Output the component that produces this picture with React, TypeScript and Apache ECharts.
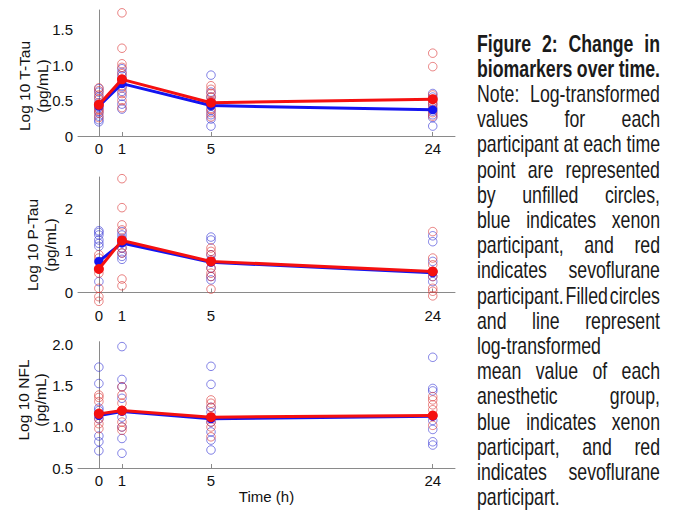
import React, { useEffect, useRef } from 'react';
import * as echarts from 'echarts';

// Time points (hours) and their positions on the (non-linear) plotted time axis
const timeLabels = ['0', '1', '5', '24'];
const timeAxisPos = [0, 1.66, 8.06, 24];

// Panel 1: Log 10 T-Tau
const tTauXenon = [
  [0.67, 0.62, 0.55, 0.47, 0.40, 0.34, 0.28, 0.23, 0.20],
  [0.95, 0.90, 0.85, 0.78, 0.70, 0.63, 0.56, 0.45, 0.38],
  [0.86, 0.62, 0.55, 0.48, 0.42, 0.36, 0.30, 0.24, 0.14],
  [0.60, 0.55, 0.45, 0.40, 0.35, 0.30, 0.26, 0.14],
];
const tTauSevo = [
  [0.68, 0.64, 0.58, 0.52, 0.45, 0.38, 0.32, 0.26, 0.36],
  [1.74, 1.24, 1.02, 0.97, 0.88, 0.80, 0.68, 0.60, 0.50, 0.40],
  [0.71, 0.66, 0.60, 0.55, 0.50, 0.44, 0.38, 0.33, 0.27],
  [1.17, 0.98, 0.58, 0.52, 0.48, 0.44, 0.38, 0.33, 0.28],
];
const tTauXenonMean = [0.42, 0.74, 0.43, 0.37];
const tTauSevoMean = [0.44, 0.80, 0.47, 0.52];

// Panel 2: Log 10 P-Tau
const pTauXenon = [
  [1.47, 1.43, 1.37, 1.25, 1.17, 1.10, 0.74, 0.26],
  [1.45, 1.37, 1.29, 1.18, 1.06, 0.94, 0.86, 0.79],
  [1.32, 1.25, 0.90, 0.78, 0.58, 0.38, 0.30],
  [1.35, 1.21, 0.74, 0.50, 0.38, 0.26],
];
const pTauSevo = [
  [0.90, 0.82, 0.56, 0.46, 0.10, -0.10, -0.21],
  [2.71, 2.02, 1.61, 1.49, 1.24, 1.06, 0.94, 0.32, 0.16],
  [1.06, 0.98, 0.90, 0.74, 0.58, 0.46, 0.38, 0.08],
  [1.45, 0.82, 0.66, 0.50, 0.38, 0.10, 0.03, -0.08],
];
const pTauXenonMean = [0.74, 1.18, 0.72, 0.47];
const pTauSevoMean = [0.56, 1.24, 0.74, 0.50];

// Panel 3: Log 10 NFL
const nflXenon = [
  [1.73, 1.53, 1.23, 1.20, 1.10, 0.89, 0.82, 0.71],
  [1.98, 1.58, 1.49, 1.35, 1.12, 1.00, 0.86, 0.68],
  [1.74, 1.52, 1.24, 1.18, 1.06, 0.94, 0.84, 0.72],
  [1.85, 1.47, 1.44, 1.08, 0.97, 0.82, 0.78],
];
const nflSevo = [
  [1.39, 1.36, 1.31, 1.17, 1.10, 1.04, 0.98],
  [1.49, 1.39, 1.29, 1.20, 1.06, 1.00, 0.96],
  [1.33, 1.29, 1.24, 1.12, 1.06, 1.00, 0.88],
  [1.37, 1.33, 1.27, 1.21, 1.14, 1.02],
];
const nflXenonMean = [1.14, 1.19, 1.10, 1.13];
const nflSevoMean = [1.16, 1.20, 1.12, 1.14];

const panelTitles = ['Log 10 T-Tau\n(pg/mL)', 'Log 10 P-Tau\n(pg/mL)', 'Log 10 NFL\n(pg/mL)'];

const captionLines = [
  'Figure 2: Change in',
  'biomarkers over time.',
  'Note: Log-transformed',
  'values for each',
  'participant at each time',
  'point are represented',
  'by unfilled circles,',
  'blue indicates xenon',
  'participant, and red',
  'indicates sevoflurane',
  'participant. Filled circles',
  'and line represent',
  'log-transformed',
  'mean value of each',
  'anesthetic group,',
  'blue indicates xenon',
  'participart, and red',
  'indicates sevoflurane',
  'participart.',
];
const captionBoldLines = 2;

const FONT = '"Liberation Sans", Arial, Helvetica, sans-serif';
const BLUE_RING = 'rgba(60,60,215,0.8)';
const RED_RING = 'rgba(220,55,55,0.78)';
const BLUE_LINE = '#1414f0';
const RED_LINE = '#f51010';
const AXIS_GRAY = '#8a8a8a';

function toPoints(groups: number[][]) {
  const pts: number[][] = [];
  groups.forEach((vals, i) => vals.forEach((v) => pts.push([timeAxisPos[i], v])));
  return pts;
}
function meanPoints(means: number[]) {
  return means.map((v, i) => [timeAxisPos[i], v]);
}

export default function App() {
  const ref = useRef<HTMLDivElement>(null);

  useEffect(() => {
    if (!ref.current) return;
    const chart = echarts.init(ref.current, undefined, { renderer: 'svg' });

    const grids = [
      { left: 78, top: 10, width: 377, height: 126 },
      { left: 78, top: 177, width: 377, height: 126 },
      { left: 78, top: 341.7, width: 377, height: 126.3 },
    ];

    const xAxes = grids.map((_, k) => ({
      type: 'value',
      gridIndex: k,
      min: -1.5,
      max: 25.6,
      name: k === 2 ? 'Time (h)' : '',
      nameLocation: 'middle',
      nameGap: 20,
      nameTextStyle: { fontFamily: FONT, fontSize: 15, color: '#111' },
      axisLine: { show: true, lineStyle: { color: AXIS_GRAY, width: 1 } },
      axisTick: {
        show: true,
        inside: true,
        customValues: timeAxisPos,
        length: 4,
        lineStyle: { color: AXIS_GRAY },
      },
      axisLabel: {
        customValues: timeAxisPos,
        fontFamily: FONT,
        fontSize: 15,
        color: '#111',
        margin: 5,
        formatter: (v: number) => {
          const idx = timeAxisPos.findIndex((p) => Math.abs(p - v) < 1e-6);
          return idx >= 0 ? timeLabels[idx] : '';
        },
      },
      splitLine: { show: false },
    }));

    const yCfg = [
      { min: 0, max: 1.78, interval: 0.5, fmt: (v: number) => (Math.abs(v) < 1e-9 ? '0' : v.toFixed(1)) },
      {
        min: -0.25,
        max: 2.75,
        interval: 0.25,
        fmt: (v: number) => (Math.abs(v - Math.round(v)) < 1e-6 ? String(Math.round(v)) : ''),
      },
      { min: 0.5, max: 2.04, interval: 0.5, fmt: (v: number) => v.toFixed(1) },
    ];

    const yAxes = yCfg.map((c, k) => ({
      type: 'value',
      gridIndex: k,
      min: c.min,
      max: c.max,
      interval: c.interval,
      axisLine: { show: true, lineStyle: { color: AXIS_GRAY, width: 1 } },
      axisTick: { show: false },
      axisLabel: {
        fontFamily: FONT,
        fontSize: 15,
        color: '#111',
        margin: 5,
        showMaxLabel: false,
        showMinLabel: k !== 1,
        formatter: c.fmt,
      },
      splitLine: { show: false },
    }));

    const panels = [
      { x: tTauXenon, s: tTauSevo, xm: tTauXenonMean, sm: tTauSevoMean },
      { x: pTauXenon, s: pTauSevo, xm: pTauXenonMean, sm: pTauSevoMean },
      { x: nflXenon, s: nflSevo, xm: nflXenonMean, sm: nflSevoMean },
    ];

    const series: any[] = [];
    panels.forEach((p, k) => {
      series.push({
        type: 'scatter',
        xAxisIndex: k,
        yAxisIndex: k,
        data: toPoints(p.x),
        symbol: 'circle',
        symbolSize: 8.5,
        itemStyle: { color: 'rgba(0,0,0,0)', borderColor: BLUE_RING, borderWidth: 1 },
        z: 2,
      });
      series.push({
        type: 'scatter',
        xAxisIndex: k,
        yAxisIndex: k,
        data: toPoints(p.s),
        symbol: 'circle',
        symbolSize: 8.5,
        itemStyle: { color: 'rgba(0,0,0,0)', borderColor: RED_RING, borderWidth: 1 },
        z: 2,
      });
      series.push({
        type: 'line',
        xAxisIndex: k,
        yAxisIndex: k,
        data: meanPoints(p.xm),
        symbol: 'circle',
        symbolSize: 9,
        showSymbol: true,
        lineStyle: { color: BLUE_LINE, width: 3 },
        itemStyle: { color: BLUE_LINE, borderWidth: 0 },
        z: 3,
      });
      series.push({
        type: 'line',
        xAxisIndex: k,
        yAxisIndex: k,
        data: meanPoints(p.sm),
        symbol: 'circle',
        symbolSize: 10,
        showSymbol: true,
        lineStyle: { color: RED_LINE, width: 3 },
        itemStyle: { color: RED_LINE, borderWidth: 0 },
        z: 4,
      });
    });

    // y-axis titles
    const titlePos = [
      { x: 33.5, y: 86 },
      { x: 41.5, y: 245 },
      { x: 32, y: 400 },
    ];
    const graphics: any[] = panelTitles.map((t, k) => ({
      type: 'text',
      x: titlePos[k].x,
      y: titlePos[k].y,
      rotation: Math.PI / 2,
      style: {
        text: t,
        fontFamily: FONT,
        fontSize: 15.5,
        lineHeight: 17.5,
        fill: '#111',
        align: 'center',
        verticalAlign: 'middle',
      },
    }));

    // caption (justified lines)
    const CAP_X0 = 477;
    const CAP_X1 = 660;
    const CAP_Y0 = 43.2;
    const CAP_DY = 25.2;
    const CAP_FS = 23;
    const CAP_SX = 0.77;
    const ctx = document.createElement('canvas').getContext('2d') as CanvasRenderingContext2D;
    const measure = (s: string, bold: boolean) => {
      ctx.font = `${bold ? 'bold ' : ''}${CAP_FS}px "Liberation Sans", Arial, sans-serif`;
      return ctx.measureText(s).width;
    };
    captionLines.forEach((line, i) => {
      const bold = i < captionBoldLines;
      const words = line.split(' ');
      const widths = words.map((w) => measure(w, bold) * CAP_SX);
      const total = widths.reduce((a, b) => a + b, 0);
      const isLast = i === captionLines.length - 1;
      const gap =
        !isLast && words.length > 1
          ? (CAP_X1 - CAP_X0 - total) / (words.length - 1)
          : measure(' ', bold) * CAP_SX;
      let x = CAP_X0;
      const y = CAP_Y0 + i * CAP_DY;
      words.forEach((w, j) => {
        graphics.push({
          type: 'text',
          x,
          y,
          scaleX: CAP_SX,
          style: {
            text: w,
            fontFamily: FONT,
            fontSize: CAP_FS,
            fontWeight: bold ? 'bold' : 'normal',
            fill: '#1a1a1a',
            align: 'left',
            verticalAlign: 'middle',
          },
        });
        x += widths[j] + gap;
      });
    });

    chart.setOption({
      animation: false,
      backgroundColor: '#ffffff',
      grid: grids,
      xAxis: xAxes,
      yAxis: yAxes,
      series,
      graphic: graphics,
    });

    return () => chart.dispose();
  }, []);

  return (
    <div
      ref={ref}
      style={{ position: 'absolute', left: 0, top: 0, width: 677, height: 510, background: '#fff' }}
    />
  );
}
